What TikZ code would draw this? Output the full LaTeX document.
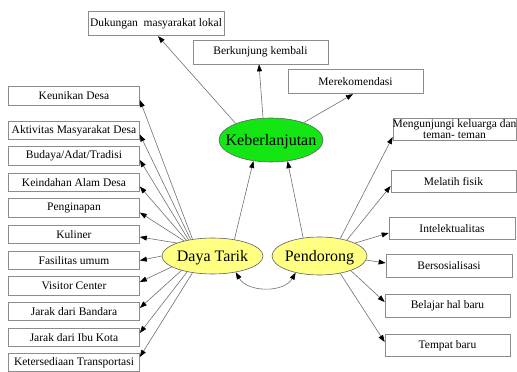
\documentclass[tikz,border=0pt]{standalone}
\usepackage{fontspec}
\setmainfont{Liberation Serif}
\usetikzlibrary{arrows.meta,shapes.geometric}
\definecolor{boxgray}{HTML}{8C8C8C}
\definecolor{edgegray}{HTML}{707070}
\definecolor{lyellow}{HTML}{FFFF82}
\definecolor{bgreen}{HTML}{14E614}
\definecolor{ellgray}{HTML}{606060}
\begin{document}
\begin{tikzpicture}[x=1pt,y=1pt,
  lbox/.style={draw=boxgray,line width=0.7pt,inner sep=0pt,minimum width=131pt,minimum height=18.5pt,font=\fontsize{11.5}{13}\selectfont},
  tbox/.style={draw=boxgray,line width=0.7pt,inner sep=0pt,minimum width=135pt,minimum height=24.5pt,font=\fontsize{11.5}{13}\selectfont},
  rbox/.style={draw=boxgray,line width=0.7pt,inner sep=0pt,minimum width=125pt,minimum height=22.5pt,font=\fontsize{11.5}{13}\selectfont},
  ell/.style={ellipse,draw=ellgray,line width=0.6pt,inner sep=0pt,text height=11pt,text depth=0pt,font=\fontsize{16}{18}\selectfont},
  conn/.style={draw=edgegray,line width=0.6pt,-{Triangle[length=7pt,width=5pt,color=black]}},
  conn2/.style={draw=edgegray,line width=0.6pt,{Triangle[length=7pt,width=5pt,color=black]}-{Triangle[length=7pt,width=5pt,color=black]}}
]
\useasboundingbox (0,0) rectangle (517,372);

% ellipses
\node[ell,fill=bgreen,minimum width=104pt,minimum height=44pt] (kb) at (271,232) {\makebox[40pt][c]{Keberlanjutan}};
\node[ell,fill=lyellow,minimum width=101pt,minimum height=36pt] (dt) at (212.5,116) {\makebox[40pt][c]{Daya Tarik}};
\node[ell,fill=lyellow,minimum width=95pt,minimum height=38pt] (pd) at (319.5,116) {\makebox[40pt][c]{Pendorong}};

% top boxes
\node[tbox,minimum width=136pt] (t1) at (156,348.5) {Dukungan\ \ masyarakat lokal};
\node[tbox,minimum height=24pt] (t2) at (260.5,320) {Berkunjung kembali};
\node[tbox] (t3) at (355.5,290.5) {Merekomendasi};

% left boxes
\node[lbox] (l1) at (74,276) {Keunikan Desa};
\node[lbox] (l2) at (74,241.5) {Aktivitas Masyarakat Desa};
\node[lbox] (l3) at (74,216) {Budaya/Adat/Tradisi};
\node[lbox] (l4) at (74,189.5) {Keindahan Alam Desa};
\node[lbox] (l5) at (74,164) {Penginapan};
\node[lbox] (l6) at (74,137.5) {Kuliner};
\node[lbox] (l7) at (74,111.5) {Fasilitas umum};
\node[lbox] (l8) at (74,86) {Visitor Center};
\node[lbox] (l9) at (74,60.5) {Jarak dari Bandara};
\node[lbox] (l10) at (74,34.5) {Jarak dari Ibu Kota};
\node[lbox] (l11) at (74,9.5) {Ketersediaan Transportasi};

% right boxes
\node[rbox,minimum width=123pt,minimum height=22pt,align=center,font=\fontsize{11.5}{11}\selectfont] (r1) at (454.5,243) {\makebox[110pt][c]{Mengunjungi keluarga dan}\\teman- teman};
\node[rbox] (r2) at (453.5,190.5) {Melatih fisik};
\node[rbox,minimum width=126pt] (r3) at (452,143.5) {Intelektualitas};
\node[rbox,minimum width=126pt] (r4) at (449,106) {Bersosialisasi};
\node[rbox] (r5) at (447.5,66) {Belajar hal baru};
\node[rbox] (r6) at (447.5,26.5) {Tempat baru};

% edges to Keberlanjutan and from it
\draw[conn] (dt.37) -- (kb.230);
\draw[conn] (pd.132) -- (kb.308);
\draw[conn] (kb.155) -- ([xshift=2pt]t1.south);
\draw[conn] ([xshift=-8pt]kb.north) -- ([xshift=-1.5pt]t2.south);
\draw[conn] (kb.28) -- ([xshift=-2.5pt]t3.south);

% Daya Tarik to left boxes
\draw[conn] (dt.140) -- ([yshift=-4pt]l1.east);
\draw[conn] (dt.143) -- ([yshift=-4pt]l2.east);
\draw[conn] (dt.146) -- ([yshift=-4pt]l3.east);
\draw[conn] (dt.149) -- ([yshift=-4pt]l4.east);
\draw[conn] (dt.152) -- ([yshift=-4.5pt]l5.east);
\draw[conn] (dt.160) -- ([yshift=-2.5pt]l6.east);
\draw[conn] (dt.180) -- (l7.east);
\draw[conn] (dt.195) -- ([yshift=4pt]l8.east);
\draw[conn] (dt.205) -- ([yshift=3.5pt]l9.east);
\draw[conn] (dt.212) -- ([yshift=4.5pt]l10.east);
\draw[conn] (dt.220) -- ([yshift=5.5pt]l11.east);

% Pendorong to right boxes
\draw[conn] (pd.40) -- ([yshift=-8pt]r1.west);
\draw[conn] (pd.30) -- ([yshift=-4.5pt]r2.west);
\draw[conn] (pd.20) -- ([yshift=-4.5pt]r3.west);
\draw[conn] (pd.-5) -- ([yshift=3pt]r4.west);
\draw[conn] (pd.-25) -- ([yshift=4pt]r5.west);
\draw[conn] (pd.-40) -- ([yshift=3.5pt]r6.west);

% mutual edge
\draw[conn2] (dt.-35) to[out=-60,in=-120] (pd.-145);
\end{tikzpicture}
\end{document}
